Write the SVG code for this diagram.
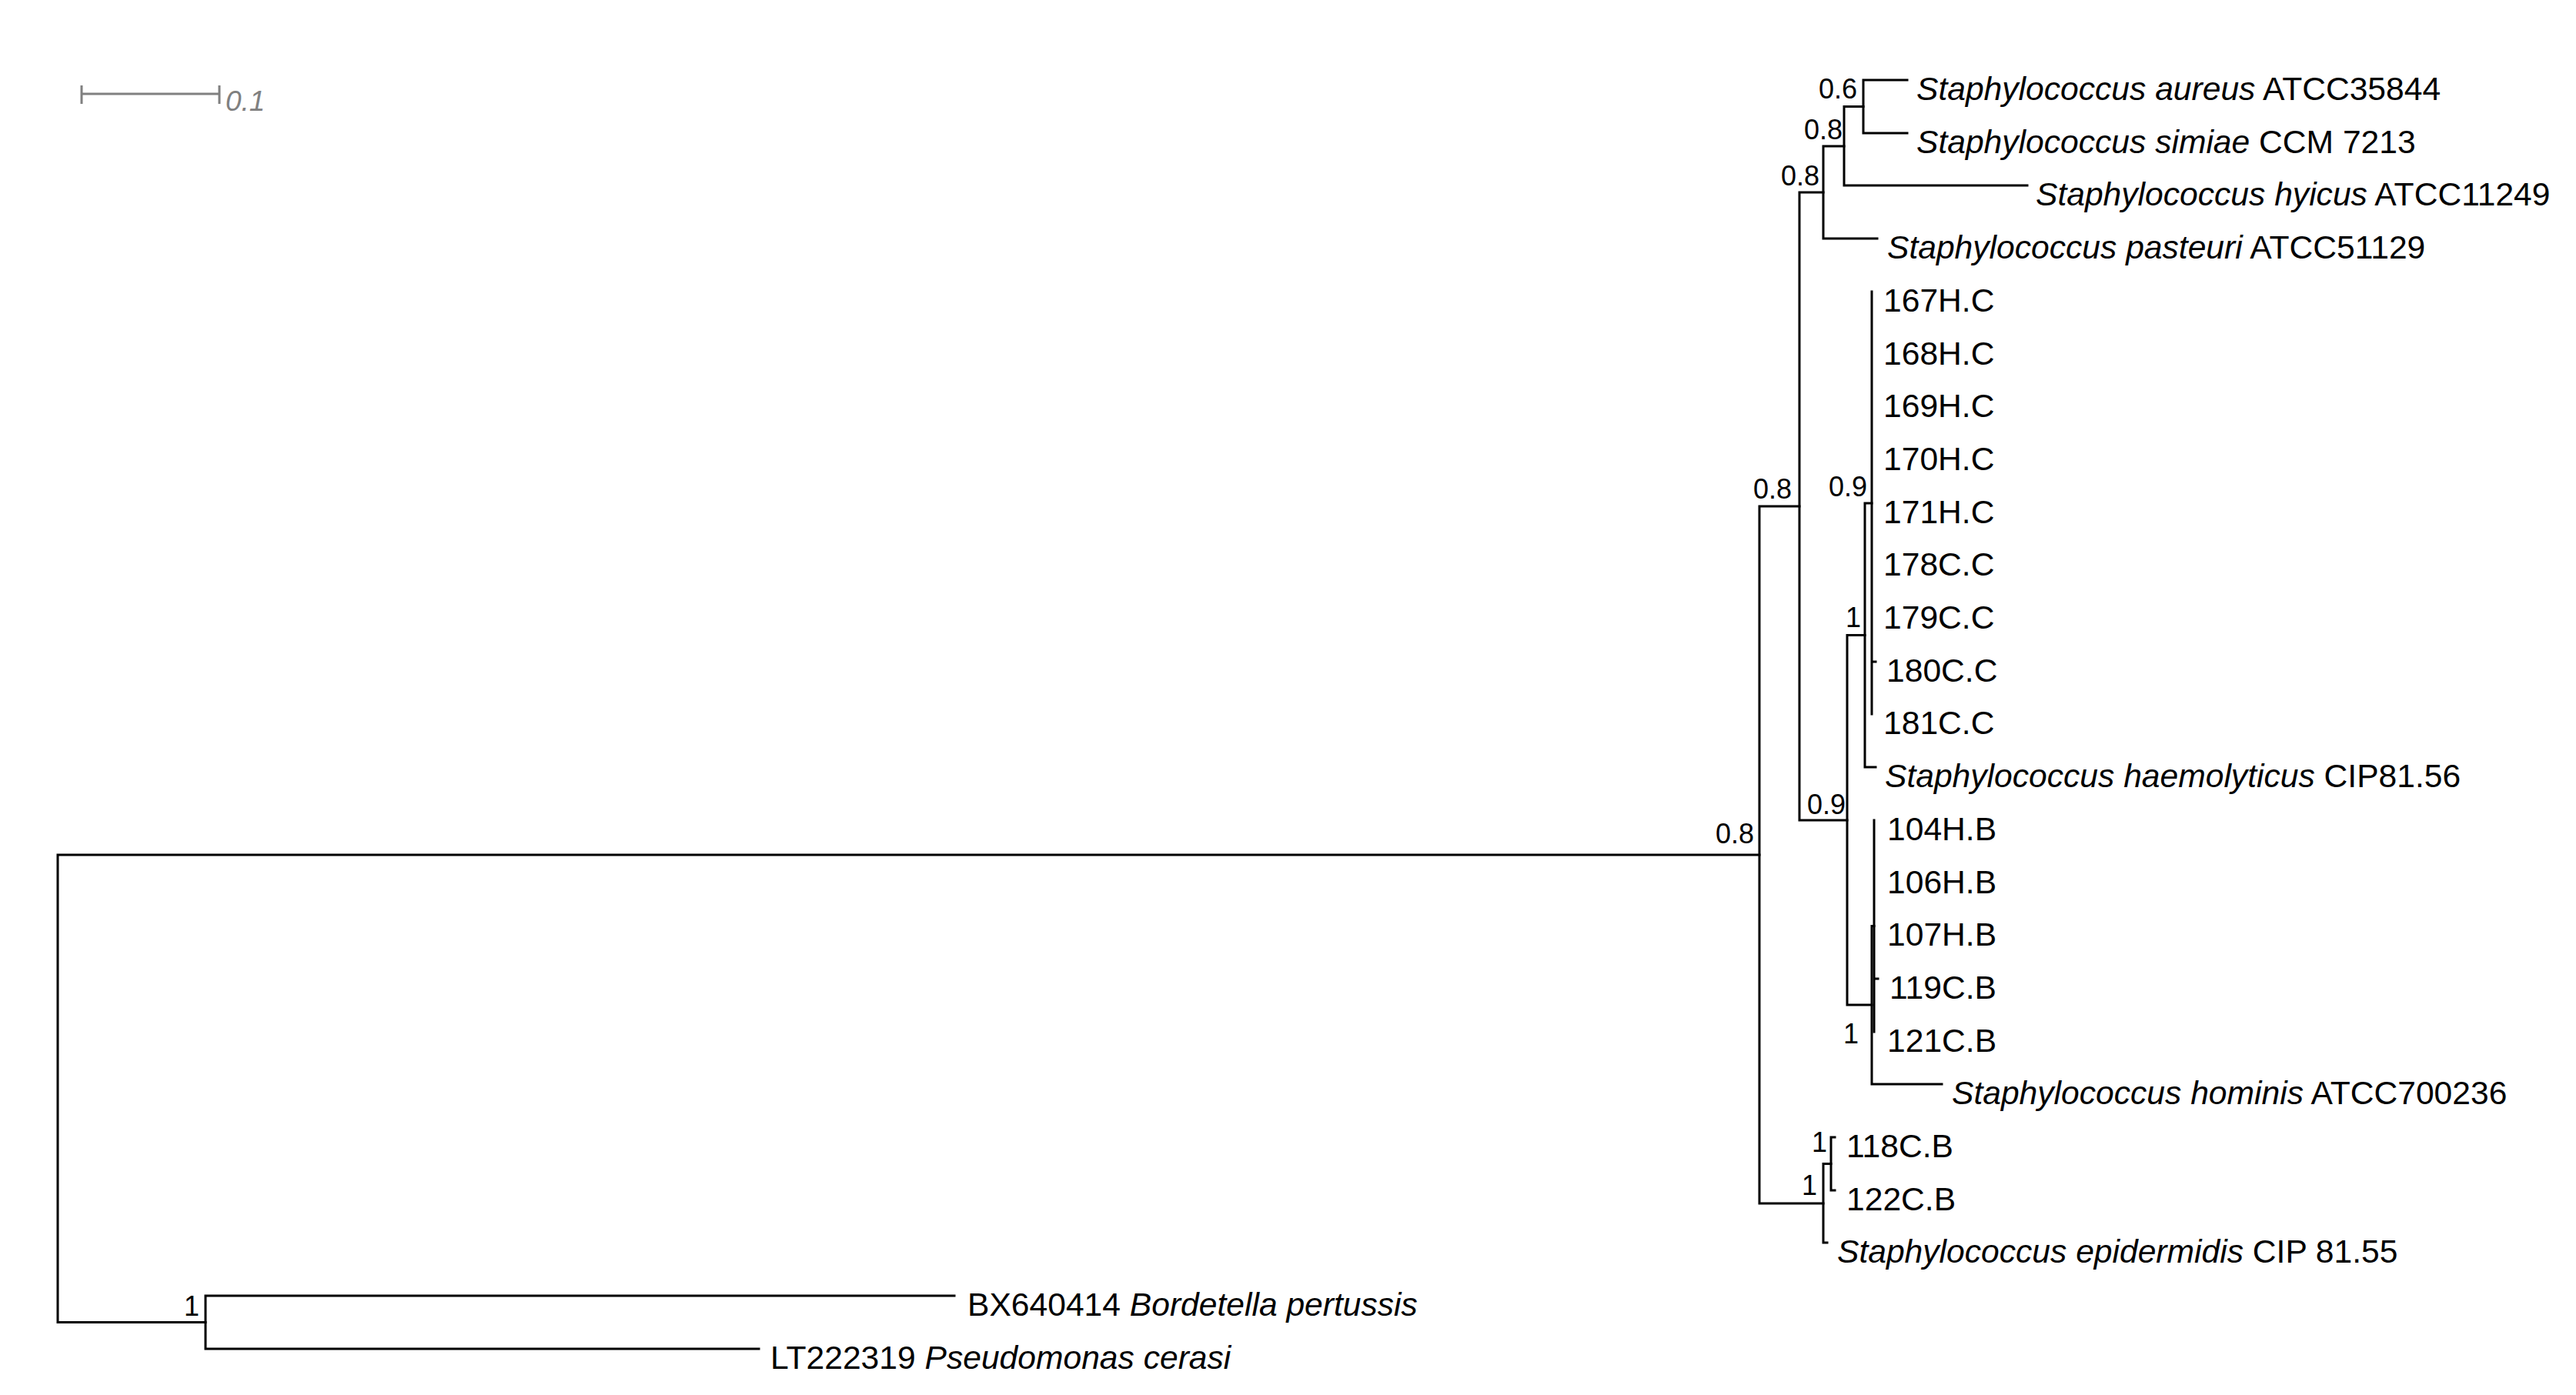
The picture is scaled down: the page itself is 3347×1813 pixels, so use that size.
<svg xmlns="http://www.w3.org/2000/svg" width="3347" height="1813" viewBox="0 0 3347 1813">
<style>
.br{fill:none;stroke:#000;stroke-width:3;stroke-linecap:square;stroke-linejoin:miter}
.lf{font-family:"Liberation Sans",Arial,sans-serif;font-size:42.6px;fill:#000}
.it{font-style:italic}
.sp{font-family:"Liberation Sans",Arial,sans-serif;font-size:36px;fill:#000;text-anchor:end}
.sc{fill:none;stroke:#808080;stroke-width:3}
.sct{font-family:"Liberation Sans",Arial,sans-serif;font-size:37px;font-style:italic;fill:#808080}
</style>
<rect width="3347" height="1813" fill="#fff"/>
<g id="scale">
<path class="sc" d="M106,111 V135 M106,122 H285 M285,111 V135"/>
<text class="sct" x="293" y="144">0.1</text>
</g>
<g id="connectors">
<path class="br" d="M2286,1111 H75 V1718.5 H267"/>
<path class="br" d="M1240,1684 H267 V1753 H986"/>
<path class="br" d="M2338,658 H2286 V1564 H2369"/>
<path class="br" d="M2369,250 H2338 V1066 H2400"/>
<path class="br" d="M2396,190 H2369 V310 H2439"/>
<path class="br" d="M2421,138.5 H2396 V241 H2634"/>
<path class="br" d="M2478,104 H2421 V173 H2478"/>
<path class="br" d="M2423,825.5 H2400 V1306 H2432"/>
<path class="br" d="M2432,654 H2423 V997 H2437"/>
<path class="br" d="M2432,379 V928 M2432,860 H2437"/>
<path class="br" d="M2435,1203.5 H2432 V1409 H2523"/>
<path class="br" d="M2435,1066 V1341 M2435,1272 H2440"/>
<path class="br" d="M2379,1512.5 H2369 V1615 H2374"/>
<path class="br" d="M2384,1478 H2379 V1547 H2384"/>
</g>
<g id="support">
<text class="sp" x="2413" y="128">0.6</text>
<text class="sp" x="2394" y="181">0.8</text>
<text class="sp" x="2364" y="241">0.8</text>
<text class="sp" x="2328" y="648">0.8</text>
<text class="sp" x="2426" y="645">0.9</text>
<text class="sp" x="2418" y="815">1</text>
<text class="sp" x="2398" y="1058">0.9</text>
<text class="sp" x="2415" y="1356">1</text>
<text class="sp" x="2279" y="1096">0.8</text>
<text class="sp" x="2374" y="1497">1</text>
<text class="sp" x="2361" y="1553">1</text>
<text class="sp" x="259" y="1710">1</text>
</g>
<g id="leaf-aureus"><text class="lf" x="2490" y="130"><tspan class="it">Staphylococcus aureus</tspan> ATCC35844</text></g>
<g id="leaf-simiae"><text class="lf" x="2490" y="199"><tspan class="it">Staphylococcus simiae</tspan> CCM 7213</text></g>
<g id="leaf-hyicus"><text class="lf" x="2645" y="267"><tspan class="it">Staphylococcus hyicus</tspan> ATCC11249</text></g>
<g id="leaf-pasteuri"><text class="lf" x="2452" y="336"><tspan class="it">Staphylococcus pasteuri</tspan> ATCC51129</text></g>
<g id="leaf-167HC"><text class="lf" x="2447" y="405">167H.C</text></g>
<g id="leaf-168HC"><text class="lf" x="2447" y="474">168H.C</text></g>
<g id="leaf-169HC"><text class="lf" x="2447" y="542">169H.C</text></g>
<g id="leaf-170HC"><text class="lf" x="2447" y="611">170H.C</text></g>
<g id="leaf-171HC"><text class="lf" x="2447" y="680">171H.C</text></g>
<g id="leaf-178CC"><text class="lf" x="2447" y="748">178C.C</text></g>
<g id="leaf-179CC"><text class="lf" x="2447" y="817">179C.C</text></g>
<g id="leaf-180CC"><text class="lf" x="2451" y="886">180C.C</text></g>
<g id="leaf-181CC"><text class="lf" x="2447" y="954">181C.C</text></g>
<g id="leaf-haemolyticus"><text class="lf" x="2449" y="1023"><tspan class="it">Staphylococcus haemolyticus</tspan> CIP81.56</text></g>
<g id="leaf-104HB"><text class="lf" x="2452" y="1092">104H.B</text></g>
<g id="leaf-106HB"><text class="lf" x="2452" y="1161">106H.B</text></g>
<g id="leaf-107HB"><text class="lf" x="2452" y="1229">107H.B</text></g>
<g id="leaf-119CB"><text class="lf" x="2455" y="1298">119C.B</text></g>
<g id="leaf-121CB"><text class="lf" x="2452" y="1367">121C.B</text></g>
<g id="leaf-hominis"><text class="lf" x="2536" y="1435"><tspan class="it">Staphylococcus hominis</tspan> ATCC700236</text></g>
<g id="leaf-118CB"><text class="lf" x="2399" y="1504">118C.B</text></g>
<g id="leaf-122CB"><text class="lf" x="2399" y="1573">122C.B</text></g>
<g id="leaf-epidermidis"><text class="lf" x="2387" y="1641"><tspan class="it">Staphylococcus epidermidis</tspan> CIP 81.55</text></g>
<g id="leaf-bordetella"><text class="lf" x="1257" y="1710">BX640414 <tspan class="it">Bordetella pertussis</tspan></text></g>
<g id="leaf-pseudomonas"><text class="lf" x="1001" y="1779">LT222319 <tspan class="it">Pseudomonas cerasi</tspan></text></g>
</svg>
